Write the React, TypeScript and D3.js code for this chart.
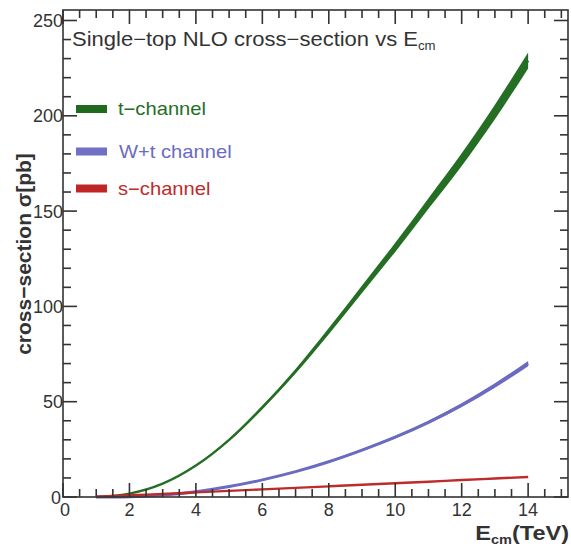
import React from "react";
import * as d3 from "d3";

const energy = [1, 1.5, 2, 3, 4, 5, 6, 7, 8, 9, 10, 11, 12, 13, 14];
const tChannel = [0, 0.6, 1.8, 7, 16.5, 30, 47, 66, 87, 109, 131, 154, 177, 202, 229];
const tChannelErr = [0, 0, 0.1, 0.2, 0.4, 0.6, 0.9, 1.2, 1.6, 2, 2.4, 2.8, 3.3, 3.8, 4.2];
const wtChannel = [0, 0.02, 0.15, 1, 2.8, 5.5, 9, 13.3, 18.5, 24.6, 31.4, 39.2, 48.2, 58.5, 70];
const wtChannelErr = [0, 0, 0, 0.05, 0.1, 0.2, 0.3, 0.4, 0.5, 0.6, 0.7, 0.8, 1, 1.2, 1.4];
const sChannel = [0.2, 0.5, 0.9, 1.6, 2.4, 3.2, 4.0, 4.8, 5.6, 6.4, 7.2, 8.0, 8.9, 9.7, 10.5];
const sChannelErr = [0, 0.05, 0.05, 0.1, 0.1, 0.1, 0.15, 0.15, 0.15, 0.2, 0.2, 0.2, 0.2, 0.25, 0.25];

const xMajorTicks = [0, 2, 4, 6, 8, 10, 12, 14];
const yMajorTicks = [0, 50, 100, 150, 200, 250];

const seriesNames = ["t\u2212channel", "W+t channel", "s\u2212channel"];
const seriesColors = ["#256f25", "#6b6bc2", "#bf2a2a"];
const legendColors = ["#1f6a1f", "#7070c4", "#c02626"];

const W = 571;
const H = 550;
const L = 63, R = 568, T = 10, B = 497;

export default function App() {
  const x = d3.scaleLinear().domain([0, 15.2]).range([L, R]);
  const y = d3.scaleLinear().domain([0, 255.5]).range([B, T]);

  const series = [
    { v: tChannel, e: tChannelErr, w: 2.4 },
    { v: wtChannel, e: wtChannelErr, w: 3 },
    { v: sChannel, e: sChannelErr, w: 2.4 },
  ];

  const area = d3
    .area<number>()
    .x((_, i) => x(energy[i]))
    .curve(d3.curveMonotoneX);
  const line = d3
    .line<number>()
    .x((_, i) => x(energy[i]))
    .y((d) => y(d))
    .curve(d3.curveMonotoneX);

  const xMinor = d3.range(0, 15.01, 0.5);
  const yMinor = d3.range(0, 255, 10);
  const axisColor = "#333";
  const textColor = "#333";

  return (
    <svg
      width={W}
      height={H}
      style={{ position: "absolute", left: 0, top: 0, background: "#fff" }}
      fontFamily="'Liberation Sans', Arial, sans-serif"
    >
      <rect x={0} y={0} width={W} height={H} fill="#fff" />
      {/* curves */}
      {series.map((s, k) => {
        const a = area
          .y0((d, i) => y(d - s.e[i]))
          .y1((d, i) => y(d + s.e[i]));
        return (
          <g key={k}>
            <path d={a(s.v) || ""} fill={seriesColors[k]} stroke="none" />
            <path d={line(s.v) || ""} fill="none" stroke={seriesColors[k]} strokeWidth={s.w} />
          </g>
        );
      })}

      {/* frame */}
      <rect x={L} y={T} width={R - L} height={B - T} fill="none" stroke={axisColor} strokeWidth={1.6} />

      {/* x ticks bottom and top */}
      {xMinor.map((t) => {
        const major = Math.abs(t / 2 - Math.round(t / 2)) < 1e-6;
        const len = major ? 14 : 8;
        return (
          <g key={"xt" + t}>
            <line x1={x(t)} x2={x(t)} y1={B} y2={B - len} stroke={axisColor} strokeWidth={1.6} />
            <line x1={x(t)} x2={x(t)} y1={T} y2={T + len} stroke={axisColor} strokeWidth={1.6} />
          </g>
        );
      })}
      {yMinor.map((t) => {
        const major = t % 50 === 0;
        const len = major ? 14 : 8;
        return (
          <g key={"yt" + t}>
            <line x1={L} x2={L + len} y1={y(t)} y2={y(t)} stroke={axisColor} strokeWidth={1.6} />
            <line x1={R} x2={R - len} y1={y(t)} y2={y(t)} stroke={axisColor} strokeWidth={1.6} />
          </g>
        );
      })}

      {/* tick labels */}
      {xMajorTicks.map((t) => (
        <text key={"xl" + t} x={x(t) + (t === 0 ? 2 : 0)} y={516} textAnchor="middle" fontSize={18} fill={textColor}>
          {t}
        </text>
      ))}
      {yMajorTicks.map((t) => (
        <text key={"yl" + t} x={t === 0 ? 61 : 63} y={y(t) + 6.5} textAnchor="end" fontSize={18} fill={textColor}>
          {t}
        </text>
      ))}

      {/* title */}
      <text transform="translate(72,46) scale(1.1,1)" fontSize={20} fill={textColor}>
        <tspan>Single{"\u2212"}top NLO cross{"\u2212"}section vs E</tspan>
        <tspan fontSize={12} dy={4}>cm</tspan>
      </text>

      {/* legend */}
      {seriesNames.map((n, k) => {
        const ys = [109, 151.5, 188.5][k];
        return (
          <g key={"lg" + k}>
            <rect x={76} y={ys - 4} width={31} height={8} fill={legendColors[k]} />
            <text
              transform={`translate(${k === 1 ? 119 : 118},${ys + 6}) scale(1.12,1)`}
              fontSize={18}
              fill={seriesColors[k]}
            >
              {n}
            </text>
          </g>
        );
      })}

      {/* axis titles */}
      <text
        transform="translate(31,254) rotate(-90)"
        textAnchor="middle"
        fontSize={21}
        fontWeight="bold"
        fill={textColor}
      >
        cross{"\u2212"}section {"\u03c3"}[pb]
      </text>
      <text transform="translate(569,540) scale(1.12,1)" textAnchor="end" fontSize={21} fontWeight="bold" fill={textColor}>
        <tspan>E</tspan>
        <tspan fontSize={13} dy={4}>cm</tspan>
        <tspan dy={-4}>(TeV)</tspan>
      </text>
    </svg>
  );
}
